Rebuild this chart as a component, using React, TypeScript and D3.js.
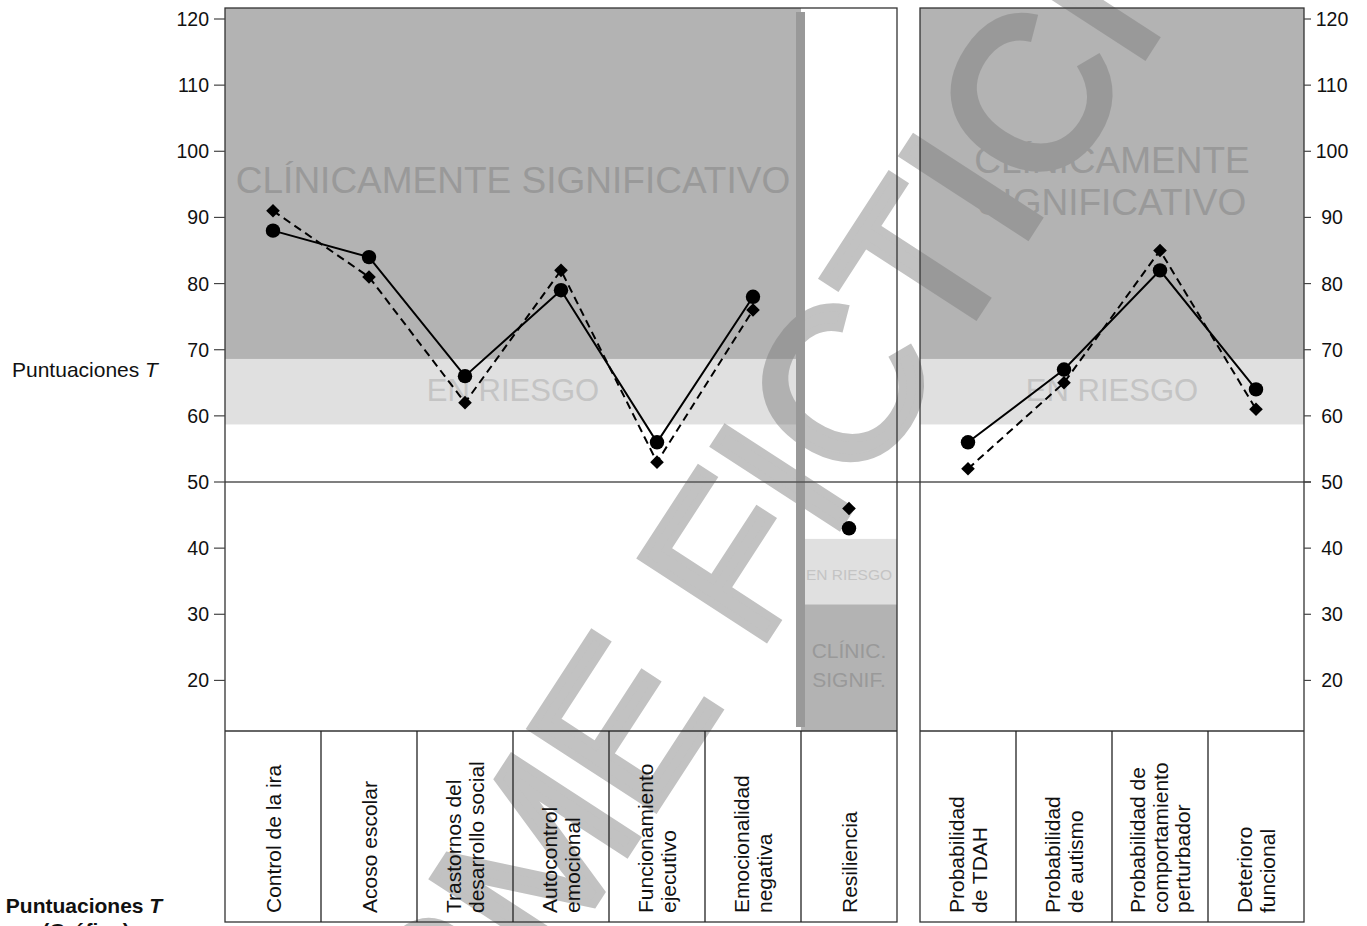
import React from "react";
import * as d3 from "d3";

const yTicks = [20, 30, 40, 50, 60, 70, 80, 90, 100, 110, 120];

const leftCategories = [
  "Control de la ira",
  "Acoso escolar",
  "Trastornos del desarrollo social",
  "Autocontrol emocional",
  "Funcionamiento ejecutivo",
  "Emocionalidad negativa",
  "Resiliencia",
];
const leftLabelLines = [
  ["Control de la ira"],
  ["Acoso escolar"],
  ["Trastornos del", "desarrollo social"],
  ["Autocontrol", "emocional"],
  ["Funcionamiento", "ejecutivo"],
  ["Emocionalidad", "negativa"],
  ["Resiliencia"],
];
// solid line with circles / dashed line with diamonds
const leftSolid = [88, 84, 66, 79, 56, 78, 43];
const leftDashed = [91, 81, 62, 82, 53, 76, 46];
const leftConnected = 6; // Resiliencia is not joined to the others

const rightCategories = [
  "Probabilidad de TDAH",
  "Probabilidad de autismo",
  "Probabilidad de comportamiento perturbador",
  "Deterioro funcional",
];
const rightLabelLines = [
  ["Probabilidad", "de TDAH"],
  ["Probabilidad", "de autismo"],
  ["Probabilidad de", "comportamiento", "perturbador"],
  ["Deterioro", "funcional"],
];
const rightSolid = [56, 67, 82, 64];
const rightDashed = [52, 65, 85, 61];

// score thresholds of the shaded zones
const clinHigh = 68.6;
const riskHigh = 58.7;
const riskLow = 41.4;
const clinLow = 31.5;

const FONT = "'Liberation Sans', Arial, Helvetica, sans-serif";
const DARK = "#b3b3b3";
const LIGHT = "#e0e0e0";

export default function App() {
  const W = 1367, H = 926;
  const plotTop = 8, plotBottom = 731, tableBottom = 922;
  const y = d3.scaleLinear().domain([50, 120]).range([482, 19]);

  const xL = d3.scaleBand<string>().domain(leftCategories).range([225, 897]);
  const xR = d3.scaleBand<string>().domain(rightCategories).range([920, 1304]);
  const bw = xL.bandwidth();
  const resX0 = xL("Resiliencia")!;

  const cxL = (i: number) => xL(leftCategories[i])! + bw / 2;
  const cxR = (i: number) => xR(rightCategories[i])! + xR.bandwidth() / 2;

  const solidLine = d3.line<[number, number]>().x(d => d[0]).y(d => d[1]);

  const leftSolidPts: [number, number][] = leftSolid.slice(0, leftConnected).map((v, i) => [cxL(i), y(v)]);
  const leftDashedPts: [number, number][] = leftDashed.slice(0, leftConnected).map((v, i) => [cxL(i), y(v)]);
  const rightSolidPts: [number, number][] = rightSolid.map((v, i) => [cxR(i), y(v)]);
  const rightDashedPts: [number, number][] = rightDashed.map((v, i) => [cxR(i), y(v)]);

  const diamond = (x: number, yy: number, r = 6.8) =>
    `M${x},${yy - r}L${x + r},${yy}L${x},${yy + r}L${x - r},${yy}Z`;

  const lineGap = 22.5;
  const renderLabels = (lines: string[][], cx: (i: number) => number) =>
    lines.map((ls, i) =>
      ls.map((t, j) => {
        const bx = cx(i) - ((ls.length - 1) / 2) * lineGap + j * lineGap + 7.5;
        return (
          <text key={`${i}-${j}`} transform={`translate(${bx},913) rotate(-90)`} fontSize={21} fill="#111">
            {t}
          </text>
        );
      })
    );

  const allPts = (s: number[], cx: (i: number) => number) => s.map((v, i) => [cx(i), y(v)] as [number, number]);

  return (
    <svg width={W} height={H} style={{ position: "absolute", left: 0, top: 0, display: "block", background: "#fff" }} fontFamily={FONT}>
      {/* zones, left panel */}
      <rect x={225} y={plotTop} width={resX0 - 225} height={y(clinHigh) - plotTop} fill={DARK} />
      <rect x={225} y={y(clinHigh)} width={resX0 - 225} height={y(riskHigh) - y(clinHigh)} fill={LIGHT} />
      {/* zones, resiliencia */}
      <rect x={resX0} y={y(riskLow)} width={897 - resX0} height={y(clinLow) - y(riskLow)} fill={LIGHT} />
      <rect x={resX0} y={y(clinLow)} width={897 - resX0} height={plotBottom - y(clinLow)} fill={DARK} />
      {/* zones, right panel */}
      <rect x={920} y={plotTop} width={384} height={y(clinHigh) - plotTop} fill={DARK} />
      <rect x={920} y={y(clinHigh)} width={384} height={y(riskHigh) - y(clinHigh)} fill={LIGHT} />

      {/* watermark */}
      <g opacity={0.47} transform="translate(656,666) rotate(-57)">
        <text x={0} y={77} textAnchor="middle" fontSize={215} fill="#7e7e7e" stroke="#7e7e7e" strokeWidth={8} strokeLinejoin="miter">
          INFORME FICTICIO
        </text>
      </g>

      {/* zone labels */}
      <text x={(225 + resX0) / 2} y={193} textAnchor="middle" fontSize={37} fill="#999">CLÍNICAMENTE SIGNIFICATIVO</text>
      <text x={(225 + resX0) / 2} y={401} textAnchor="middle" fontSize={31} fill="#c4c4c4">EN RIESGO</text>
      <text x={1112} y={173} textAnchor="middle" fontSize={37} fill="#999">CLÍNICAMENTE</text>
      <text x={1112} y={215} textAnchor="middle" fontSize={37} fill="#999">SIGNIFICATIVO</text>
      <text x={1112} y={401} textAnchor="middle" fontSize={31} fill="#c4c4c4">EN RIESGO</text>
      <text x={849} y={580} textAnchor="middle" fontSize={15.5} fill="#c4c4c4">EN RIESGO</text>
      <text x={849} y={658} textAnchor="middle" fontSize={21} fill="#999">CLÍNIC.</text>
      <text x={849} y={687} textAnchor="middle" fontSize={21} fill="#999">SIGNIF.</text>

      {/* separator bar before Resiliencia */}
      <rect x={resX0 - 5} y={12} width={9} height={727 - 12} fill="#999" />

      {/* 50 reference line */}
      <line x1={225} x2={1311} y1={y(50)} y2={y(50)} stroke="#555" strokeWidth={1.3} />

      {/* frames */}
      <rect x={225} y={plotTop} width={672} height={tableBottom - plotTop} fill="none" stroke="#333" strokeWidth={1.3} />
      <rect x={920} y={plotTop} width={384} height={tableBottom - plotTop} fill="none" stroke="#333" strokeWidth={1.3} />
      <line x1={225} x2={897} y1={plotBottom} y2={plotBottom} stroke="#333" strokeWidth={1.3} />
      <line x1={920} x2={1304} y1={plotBottom} y2={plotBottom} stroke="#333" strokeWidth={1.3} />
      {leftCategories.slice(1).map(c => (
        <line key={c} x1={xL(c)!} x2={xL(c)!} y1={plotBottom} y2={tableBottom} stroke="#222" strokeWidth={1.3} />
      ))}
      {rightCategories.slice(1).map(c => (
        <line key={c} x1={xR(c)!} x2={xR(c)!} y1={plotBottom} y2={tableBottom} stroke="#222" strokeWidth={1.3} />
      ))}

      {/* axes */}
      {yTicks.map(t => (
        <g key={t}>
          <line x1={214} x2={225} y1={y(t)} y2={y(t)} stroke="#444" strokeWidth={1.2} />
          <text x={209} y={y(t) + 7} textAnchor="end" fontSize={19.5} fill="#111">{t}</text>
          <line x1={1304} x2={1311} y1={y(t)} y2={y(t)} stroke="#444" strokeWidth={1.2} />
          <text x={1332} y={y(t) + 7} textAnchor="middle" fontSize={19.5} fill="#111">{t}</text>
        </g>
      ))}

      {/* series */}
      <path d={solidLine(leftDashedPts)!} fill="none" stroke="#000" strokeWidth={2} strokeDasharray="8,5" />
      <path d={solidLine(leftSolidPts)!} fill="none" stroke="#000" strokeWidth={2} />
      <path d={solidLine(rightDashedPts)!} fill="none" stroke="#000" strokeWidth={2} strokeDasharray="8,5" />
      <path d={solidLine(rightSolidPts)!} fill="none" stroke="#000" strokeWidth={2} />
      {allPts(leftDashed, cxL).concat(allPts(rightDashed, cxR)).map((p, i) => (
        <path key={`d${i}`} d={diamond(p[0], p[1])} fill="#000" />
      ))}
      {allPts(leftSolid, cxL).concat(allPts(rightSolid, cxR)).map((p, i) => (
        <circle key={`c${i}`} cx={p[0]} cy={p[1]} r={7.2} fill="#000" />
      ))}

      {/* category labels */}
      {renderLabels(leftLabelLines, cxL)}
      {renderLabels(rightLabelLines, cxR)}

      {/* axis titles */}
      <text x={12} y={377} fontSize={21} fill="#111">
        Puntuaciones <tspan fontStyle="italic">T</tspan>
      </text>
      <text x={84} y={913} textAnchor="middle" fontSize={21} fontWeight="bold" fill="#111">
        Puntuaciones <tspan fontStyle="italic">T</tspan>
      </text>
      <text x={86} y={938} textAnchor="middle" fontSize={21} fontWeight="bold" fill="#111">(Gráfico)</text>
    </svg>
  );
}
